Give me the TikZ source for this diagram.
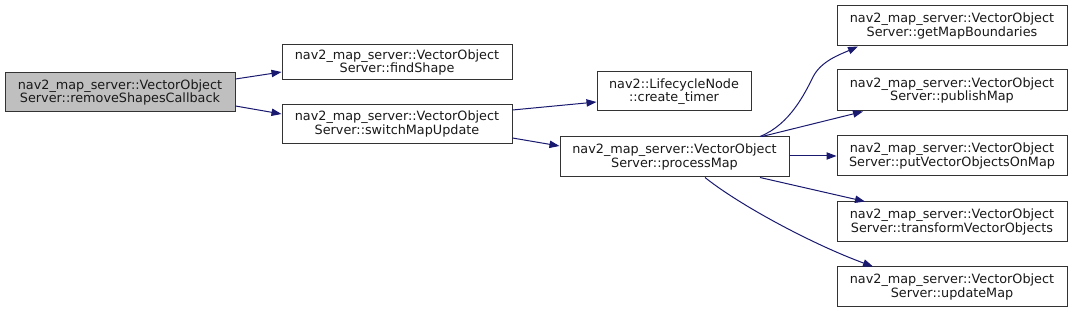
\documentclass[tikz,border=0pt]{standalone}
\usepackage{fontspec}
\setmainfont{DejaVu Sans}
\usetikzlibrary{arrows.meta,calc}
\definecolor{edgeblue}{HTML}{191970}
\definecolor{hlgray}{HTML}{BFBFBF}
\begin{document}
\begin{tikzpicture}[x=0.75pt,y=-0.75pt,
  fn/.style={draw=black!80, line width=0.75pt, fill=white, inner sep=0pt, align=center,
    font=\fontsize{9.6pt}{10pt}\selectfont, text=black!90},
  edge/.style={draw=edgeblue, line width=0.75pt, -{Triangle[length=7.5pt,width=5.5pt]}, fill=none}]
\useasboundingbox (0,0) rectangle (1072,313);
\node[fn, fill=hlgray, minimum width=230*0.75pt, minimum height=39*0.75pt] (A) at (120,92.5) {nav2\_map\_server::VectorObject\\Server::removeShapesCallback};
\node[fn, minimum width=230*0.75pt, minimum height=35*0.75pt] (B) at (397,62.5) {nav2\_map\_server::VectorObject\\Server::findShape};
\node[fn, minimum width=230*0.75pt, minimum height=39*0.75pt] (C) at (397,124) {nav2\_map\_server::VectorObject\\Server::switchMapUpdate};
\node[fn, minimum width=154*0.75pt, minimum height=39*0.75pt] (D) at (674,91.5) {nav2::LifecycleNode\\::create\_timer};
\node[fn, minimum width=229*0.75pt, minimum height=40*0.75pt] (E) at (674.5,157) {nav2\_map\_server::VectorObject\\Server::processMap};
\node[fn, minimum width=230*0.75pt, minimum height=40*0.75pt] (G) at (952,26) {nav2\_map\_server::VectorObject\\Server::getMapBoundaries};
\node[fn, minimum width=230*0.75pt, minimum height=41*0.75pt] (P) at (952,90.5) {nav2\_map\_server::VectorObject\\Server::publishMap};
\node[fn, minimum width=230*0.75pt, minimum height=40*0.75pt] (Q) at (952,156) {nav2\_map\_server::VectorObject\\Server::putVectorObjectsOnMap};
\node[fn, minimum width=230*0.75pt, minimum height=40*0.75pt] (T) at (952,222) {nav2\_map\_server::VectorObject\\Server::transformVectorObjects};
\node[fn, minimum width=230*0.75pt, minimum height=40*0.75pt] (U) at (952,287) {nav2\_map\_server::VectorObject\\Server::updateMap};

\draw[edge] ($(A.east)+(0,-13.5)$) -- ($(B.west)+(0,9.5)$);
\draw[edge] ($(A.east)+(0,13.5)$) -- ($(C.west)+(0,-10)$);
\draw[edge] ($(C.east)+(0,-14)$) -- ($(D.west)+(0,10.5)$);
\draw[edge] ($(C.east)+(0,14)$) -- ($(E.west)+(0,-11)$);
\draw[edge] ($(E.north)+(85.5,0)$) .. controls +(30,-12) and +(-8,16) .. (813,77) .. controls +(8,-16) and +(-18,8) .. ($(G.south)+(-94,0)$);
\draw[edge] ($(E.north)+(87.5,0)$) -- ($(P.south)+(-89,0)$);
\draw[edge] ($(E.east)+(0,-1)$) -- (Q.west);
\draw[edge] ($(E.south)+(85.5,0)$) -- ($(T.north)+(-87,0)$);
\draw[edge] ($(E.south)+(30.5,0)$) .. controls +(35,28) and +(-60,-22) .. ($(U.north)+(-79,0)$);
\end{tikzpicture}
\end{document}
